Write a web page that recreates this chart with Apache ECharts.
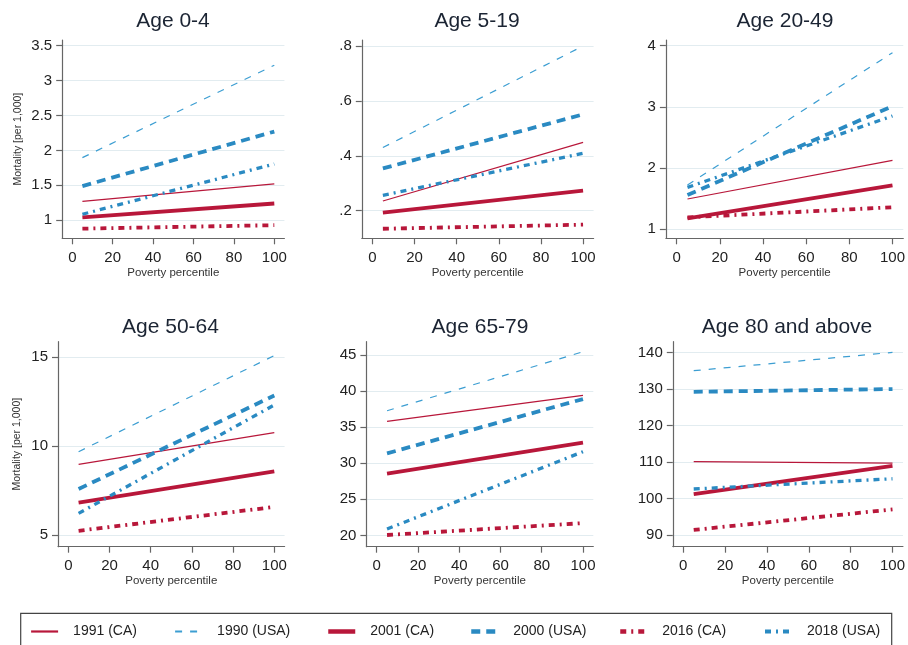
<!DOCTYPE html>
<html>
<head>
<meta charset="utf-8">
<script src="https://cdn.jsdelivr.net/npm/echarts@6/dist/echarts.min.js"></script>
<style>
html,body{margin:0;padding:0;background:#fff;}
#chart{width:908px;height:645px;}
</style>
</head>
<body>
<div id="chart"></div>
<script>
// ---- data ----
const povertyX = [5, 100];
const panelTitles = ['Age 0-4', 'Age 5-19', 'Age 20-49', 'Age 50-64', 'Age 65-79', 'Age 80 and above'];
const xTicks = [0, 20, 40, 60, 80, 100];
const yTicks0 = [1, 1.5, 2, 2.5, 3, 3.5];
const yTicks1 = [0.2, 0.4, 0.6, 0.8];
const yTicks2 = [1, 2, 3, 4];
const yTicks3 = [5, 10, 15];
const yTicks4 = [20, 25, 30, 35, 40, 45];
const yTicks5 = [90, 100, 110, 120, 130, 140];
const seriesNames = ['1991 (CA)', '1990 (USA)', '2001 (CA)', '2000 (USA)', '2016 (CA)', '2018 (USA)'];
// values at poverty percentile 5 and 100, one pair per panel
const ca1991  = [[1.27, 1.52], [0.235, 0.449], [1.49, 2.124], [8.98, 10.76], [35.8, 39.4], [110.07, 109.7]];
const usa1990 = [[1.897, 3.22], [0.43, 0.80], [1.72, 3.886], [9.69, 15.1], [37.28, 45.46], [134.98, 140.0]];
const ca2001  = [[1.043, 1.24], [0.193, 0.273], [1.175, 1.715], [6.82, 8.58], [28.55, 32.85], [101.2, 108.9]];
const usa2000 = [[1.49, 2.27], [0.354, 0.551], [1.556, 3.01], [7.59, 12.85], [31.37, 38.9], [129.2, 129.96]];
const ca2016  = [[0.88, 0.93], [0.134, 0.149], [1.19, 1.355], [5.24, 6.58], [20.05, 21.7], [91.4, 97.0]];
const usa2018 = [[1.086, 1.806], [0.256, 0.409], [1.68, 2.85], [6.22, 12.32], [20.88, 31.6], [102.6, 105.4]];

// ---- layout / style ----
const yTicksAll = [yTicks0, yTicks1, yTicks2, yTicks3, yTicks4, yTicks5];
const yRanges = [[0.742, 3.581], [0.0992, 0.822], [0.847, 4.093], [4.343, 15.88], [18.43, 46.85], [86.8, 142.92]];
const grids = [
  {left: 62.2, top: 40, width: 222.2, height: 198.3},
  {left: 361.8, top: 40, width: 231.8, height: 198.3},
  {left: 665.9, top: 40, width: 237.9, height: 198.3},
  {left: 58, top: 341.7, width: 226.6, height: 205},
  {left: 366.4, top: 341.7, width: 226.9, height: 205},
  {left: 672.8, top: 341.7, width: 230.7, height: 205}
];
const titlePos = [[173, 21.7], [477, 21.7], [785, 21.7], [170.5, 327.5], [480, 327.5], [787, 327.5]];
const RED = '#b8173a', BLUE = '#2a8ac2', BLUE_THIN = '#3c9ed2';
const styles = [
  {color: RED, width: 1.2, type: 'solid', legendWidth: 2.2},
  {color: BLUE_THIN, width: 1.2, type: [7, 8], legendWidth: 2.2},
  {color: RED, width: 3.8, type: 'solid', legendWidth: 4.5},
  {color: BLUE, width: 3.8, type: [9, 6], legendWidth: 4.5},
  {color: RED, width: 3.8, type: [6, 5, 2, 5], legendWidth: 4.5},
  {color: BLUE, width: 3.3, type: [6, 5, 2, 5], legendWidth: 4}
];
const allSeriesData = [ca1991, usa1990, ca2001, usa2000, ca2016, usa2018];
const FONT = 'Liberation Sans, Arial, sans-serif';
const fmt = v => String(v).replace(/^0\./, '.');

const xAxes = [], yAxes = [], series = [], graphics = [];
for (let p = 0; p < 6; p++) {
  xAxes.push({
    type: 'value', gridIndex: p, min: -5, max: 105,
    name: 'Poverty percentile', nameLocation: 'middle', nameGap: p < 3 ? 29 : 27,
    nameTextStyle: {fontFamily: FONT, fontSize: 11.5, color: '#333'},
    axisLine: {show: true, onZero: false, lineStyle: {color: '#666', width: 1.2}},
    axisTick: {show: true, length: 6, customValues: xTicks, lineStyle: {color: '#666', width: 1.2}},
    axisLabel: {customValues: xTicks, margin: 12, fontFamily: FONT, fontSize: 15, color: '#222'},
    splitLine: {show: false}
  });
  const yt = yTicksAll[p];
  yAxes.push({
    type: 'value', gridIndex: p, min: yRanges[p][0], max: yRanges[p][1],
    name: (p === 0 || p === 3) ? 'Mortality [per 1,000]' : '',
    nameLocation: 'middle', nameRotate: 90, nameGap: p === 0 ? 39 : 35,
    nameTextStyle: {fontFamily: FONT, fontSize: 10.5, color: '#333'},
    axisLine: {show: true, onZero: false, lineStyle: {color: '#666', width: 1.2}},
    axisTick: {show: true, length: 6, customValues: yt, lineStyle: {color: '#666', width: 1.2}},
    axisLabel: {customValues: yt, margin: 10, fontFamily: FONT, fontSize: 15, color: '#222', formatter: fmt},
    splitLine: {show: true, lineStyle: {color: '#e2ecf0', width: 1.2}}
  });
  for (let s = 0; s < 6; s++) {
    const vals = allSeriesData[s][p];
    series.push({
      name: seriesNames[s], type: 'line', xAxisIndex: p, yAxisIndex: p,
      data: povertyX.map((x, i) => [x, vals[i]]),
      symbol: 'none', silent: true, animation: false,
      lineStyle: {color: styles[s].color, width: styles[s].width, type: styles[s].type, cap: 'butt'},
      itemStyle: {color: styles[s].color}
    });
  }
  graphics.push({
    type: 'text', x: titlePos[p][0], y: titlePos[p][1],
    style: {text: panelTitles[p], font: '21px ' + FONT, fill: '#1b2433',
      align: 'center', verticalAlign: 'middle', textAlign: 'center', textVerticalAlign: 'middle'}
  });
}
graphics.push({
  type: 'rect', shape: {x: 20.7, y: 613.3, width: 871, height: 60},
  style: {fill: 'none', stroke: '#444', lineWidth: 1.2}
});

const legendLefts = [30, 174, 326, 469, 618, 763];
const legends = seriesNames.map((n, i) => ({
  data: [n], left: legendLefts[i], top: 624.5, orient: 'horizontal', padding: 0,
  itemWidth: 27, itemHeight: 14, selectedMode: false,
  itemStyle: {opacity: 0, borderWidth: 0},
  lineStyle: {width: styles[i].legendWidth, type: styles[i].type, color: styles[i].color, cap: 'butt'},
  textStyle: {fontFamily: FONT, fontSize: 14, color: '#222', padding: [0, 0, 0, 10]}
}));

const chart = echarts.init(document.getElementById('chart'), null, {renderer: 'canvas'});
chart.setOption({
  animation: false,
  backgroundColor: '#fff',
  grid: grids,
  xAxis: xAxes,
  yAxis: yAxes,
  series: series,
  legend: legends,
  graphic: graphics
});
</script>
</body>
</html>
